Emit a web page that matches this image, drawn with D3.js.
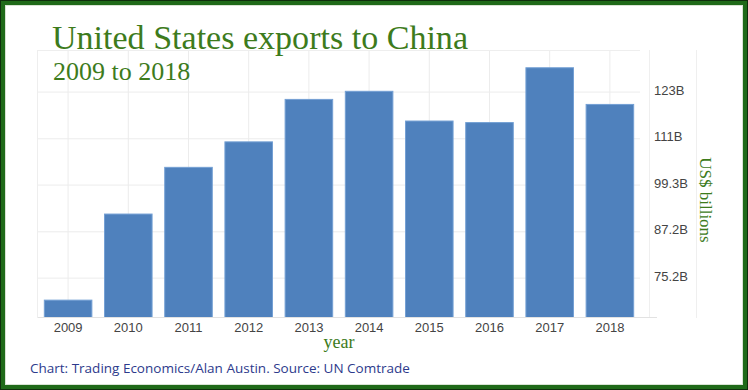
<!DOCTYPE html>
<html><head><meta charset="utf-8">
<script src="https://cdn.jsdelivr.net/npm/d3@7"></script>
<style>body{margin:0;background:#fff}svg{display:block}</style>
</head><body>
<svg id="c" width="748" height="390"></svg>
<script>
const years = ["2009","2010","2011","2012","2013","2014","2015","2016","2017","2018"];
const exportsBn = [69.5, 91.8, 103.9, 110.5, 121.5, 123.6, 115.9, 115.5, 129.7, 120.2];
const tickValues = [75.2, 87.2, 99.3, 111.3, 123.4];
const tickLabels = ["75.2B","87.2B","99.3B","111B","123B"];

const svg = d3.select("#c");
const W = 748, H = 390;
svg.append("rect").attr("width",W).attr("height",H).attr("fill","#fff");

const x = d3.scaleBand().domain(years).range([38, 640]).paddingInner(0.21).paddingOuter(0.105);
const y = d3.scaleLinear().domain([65, 134.3]).range([317.5, 50]);
const green = "#3d7b1c";

// grid
const g = svg.append("g");
g.selectAll("line.h").data(tickValues).enter().append("line")
  .attr("x1",38).attr("x2",640).attr("y1",d=>y(d)).attr("y2",d=>y(d))
  .attr("stroke","#ececec").attr("stroke-width",1);
g.selectAll("line.v").data(years).enter().append("line")
  .attr("x1",d=>x(d)+x.bandwidth()/2).attr("x2",d=>x(d)+x.bandwidth()/2)
  .attr("y1",50).attr("y2",317.5).attr("stroke","#ececec");
g.append("line").attr("x1",38).attr("x2",640).attr("y1",50.5).attr("y2",50.5).attr("stroke","#eeeeee");
g.append("line").attr("x1",37.5).attr("x2",37.5).attr("y1",50).attr("y2",318).attr("stroke","#eeeeee");
[649.5, 696.5].forEach(v=>g.append("line").attr("x1",v).attr("x2",v).attr("y1",50).attr("y2",318).attr("stroke","#efefef"));

// bars
svg.append("g").selectAll("rect").data(years).enter().append("rect")
  .attr("x",d=>x(d)).attr("width",x.bandwidth())
  .attr("y",(d,i)=>y(exportsBn[i])).attr("height",(d,i)=>y(65)-y(exportsBn[i]))
  .attr("fill","#4f81bd").attr("stroke","#74a0d4").attr("stroke-width",1);

// baseline
svg.append("line").attr("x1",38).attr("x2",657).attr("y1",317.5).attr("y2",317.5).attr("stroke","#e2e2e2");

// x axis
const xAxis = d3.axisBottom(x).tickSize(0).tickPadding(0);
const xa = svg.append("g").attr("transform","translate(0,318)").call(xAxis);
xa.select(".domain").remove();
xa.selectAll("text").attr("dy",null).attr("y",13.5).attr("font-family","'Liberation Sans', Arial, sans-serif").attr("font-size",13).attr("fill","#444");

// y axis (right)
const yAxis = d3.axisRight(y).tickValues(tickValues).tickFormat((d,i)=>tickLabels[i]).tickSize(0).tickPadding(0);
const ya = svg.append("g").attr("transform","translate(654,0)").call(yAxis);
ya.select(".domain").remove();
ya.selectAll("text").attr("dy","0.15em").attr("font-family","'Liberation Sans', Arial, sans-serif").attr("font-size",13).attr("fill","#444");

// titles
const serif = "'Liberation Serif', 'DejaVu Serif', serif";
svg.append("text").attr("x",52).attr("y",48.5).attr("font-family",serif).attr("font-size",33.5).attr("fill",green)
  .attr("textLength",416).attr("lengthAdjust","spacingAndGlyphs").text("United States exports to China");
svg.append("text").attr("x",53).attr("y",80).attr("font-family",serif).attr("font-size",26).attr("fill",green)
  .text("2009 to 2018");
svg.append("text").attr("x",339).attr("y",348).attr("text-anchor","middle").attr("font-family",serif).attr("font-size",18).attr("fill",green).text("year");
svg.append("text").attr("transform","translate(700,200) rotate(90)").attr("text-anchor","middle").attr("font-family",serif).attr("font-size",17).attr("fill",green).text("US$ billions");
svg.append("text").attr("x",30).attr("y",373).attr("font-family","'Open Sans', sans-serif").attr("font-size",13.5).attr("fill","#2d3a8c")
  .text("Chart: Trading Economics/Alan Austin. Source: UN Comtrade");

// frame
svg.append("rect").attr("x",0.5).attr("y",0.5).attr("width",W-1).attr("height",H-1).attr("fill","none").attr("stroke","#0f2e0c").attr("stroke-width",1);
svg.append("rect").attr("x",3).attr("y",3).attr("width",W-6).attr("height",H-6).attr("fill","none").attr("stroke","#1f6a19").attr("stroke-width",4);
svg.append("rect").attr("x",5.5).attr("y",5.5).attr("width",W-11).attr("height",H-11).attr("fill","none").attr("stroke","#d8e3d4").attr("stroke-width",1);
</script>
</body></html>
